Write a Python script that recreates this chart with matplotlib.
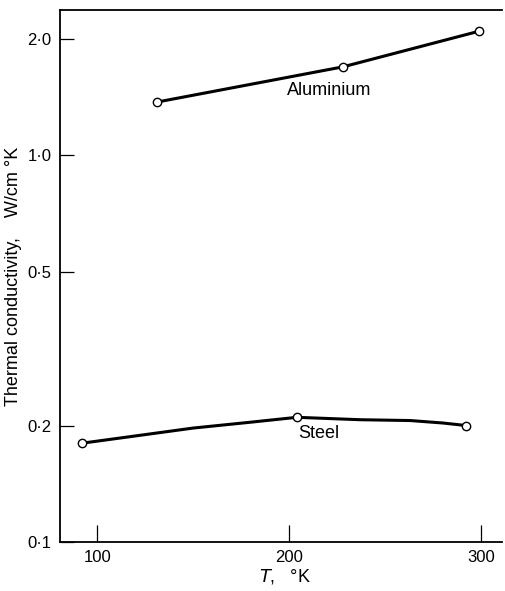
import matplotlib
matplotlib.use('Agg')
import matplotlib.pyplot as plt
from matplotlib.ticker import FixedLocator, NullLocator

plt.rcParams['font.family'] = ['Liberation Sans', 'DejaVu Sans']

# measured points
al_T = [131, 228, 299]
al_k = [1.37, 1.69, 2.09]

steel_T = [92, 204, 292]
steel_k = [0.180, 0.210, 0.200]

# hand-drawn steel curve
steel_curve_T = [92, 120, 150, 180, 204, 237, 263, 280, 292]
steel_curve_k = [0.180, 0.188, 0.197, 0.204, 0.210, 0.207, 0.206, 0.203, 0.200]

y_ticks = [0.1, 0.2, 0.5, 1.0, 2.0]
y_labels = ['0·1', '0·2', '0·5', '1·0', '2·0']
x_ticks = [100, 200, 300]

fig = plt.figure(figsize=(5.06, 5.91), dpi=100)
ax = fig.add_axes([60 / 506, 1 - 542 / 591, 442 / 506, 532 / 591])

ax.plot(al_T, al_k, color='k', lw=2.2, zorder=2)
ax.plot(steel_curve_T, steel_curve_k, color='k', lw=2.2, zorder=2)
ax.plot(al_T, al_k, 'o', ms=6, mfc='white', mec='k', mew=1.0, zorder=3)
ax.plot(steel_T, steel_k, 'o', ms=6, mfc='white', mec='k', mew=1.0, zorder=3)

ax.text(199, 1.47, 'Aluminium', fontsize=13, ha='left', va='center')
ax.text(204.5, 0.191, 'Steel', fontsize=13, ha='left', va='center')

ax.set_yscale('log')
ax.set_xlim(80.6, 310.8)
ax.set_ylim(0.1, 2.37)
ax.yaxis.set_major_locator(FixedLocator(y_ticks))
ax.yaxis.set_minor_locator(NullLocator())
ax.set_yticklabels(y_labels)
ax.set_xticks(x_ticks)
ax.set_xticklabels([str(t) for t in x_ticks])
ax.tick_params(axis='both', direction='in', width=0.9, labelsize=12, pad=6)
ax.tick_params(axis='x', length=12)
ax.tick_params(axis='y', length=10)

ax.spines['right'].set_visible(False)
for s in ['left', 'bottom', 'top']:
    ax.spines[s].set_linewidth(1.3)

fig.text(285 / 506, 1 - 576 / 591, '$T$,   °K', fontsize=13, ha='center', va='center')
fig.text(14 / 506, 1 - 276 / 591, 'Thermal conductivity,    W/cm °K', fontsize=13,
         rotation=90, ha='center', va='center')

fig.savefig('out.png', dpi=100)
